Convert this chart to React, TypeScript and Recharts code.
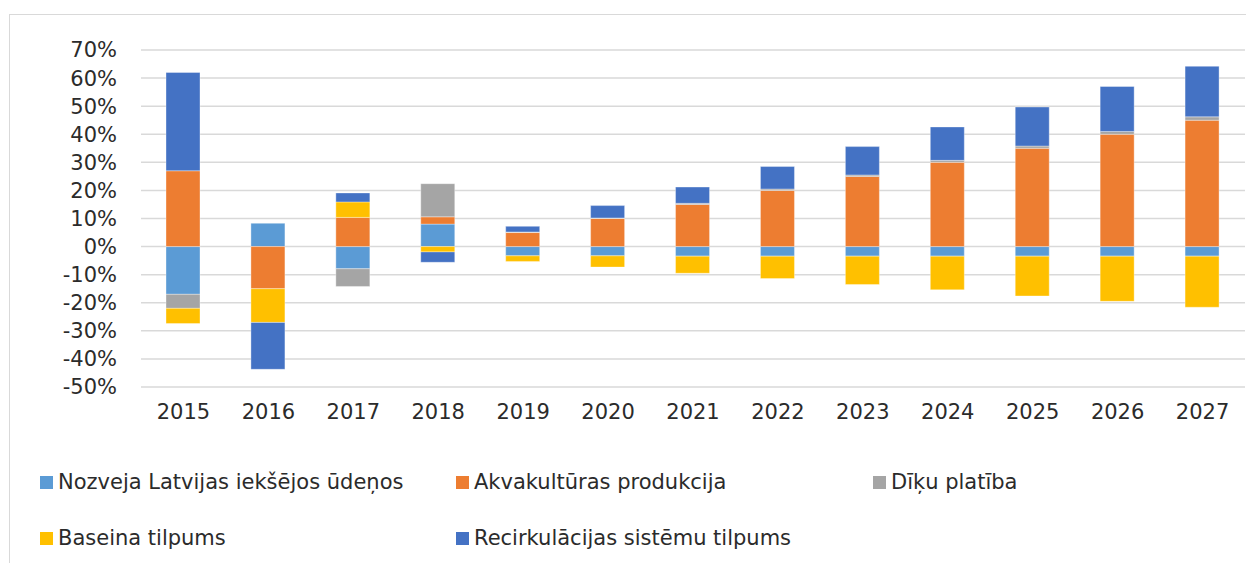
import { Bar, BarChart, CartesianGrid, XAxis, YAxis } from "recharts";

const years = ["2015", "2016", "2017", "2018", "2019", "2020", "2021", "2022", "2023", "2024", "2025", "2026", "2027"];

// percentage change by component
const nozveja = [-17, 8.3, -7.9, 8.0, -3.3, -3.3, -3.4, -3.4, -3.4, -3.4, -3.4, -3.4, -3.4];
const akvakultura = [27, -15, 10.4, 2.6, 5, 10, 15, 20, 25, 30, 35, 40, 45];
const diki = [-5, 0, -6.3, 11.8, 0.2, 0.2, 0.4, 0.5, 0.5, 0.7, 0.8, 1.0, 1.2];
const baseini = [-5.4, -12, 5.5, -1.9, -2.0, -4.0, -6.1, -8.0, -10.1, -12.0, -14.2, -16.1, -18.2];
const recirkulacija = [35, -16.7, 3.2, -3.7, 2.0, 4.4, 5.8, 8.0, 10.1, 11.9, 13.9, 16.0, 18.0];

const yTicks = [-50, -40, -30, -20, -10, 0, 10, 20, 30, 40, 50, 60, 70];

const series = [
  { key: "nozveja", name: "Nozveja Latvijas iekšējos ūdeņos", color: "#5B9BD5", values: nozveja },
  { key: "akva", name: "Akvakultūras produkcija", color: "#ED7D31", values: akvakultura },
  { key: "diki", name: "Dīķu platība", color: "#A5A5A5", values: diki },
  { key: "baseini", name: "Baseina tilpums", color: "#FFC000", values: baseini },
  { key: "recirk", name: "Recirkulācijas sistēmu tilpums", color: "#4472C4", values: recirkulacija },
];

// legend slots: [left, top] of the marker
const legendSlots = [
  [40, 475],
  [456, 475],
  [873, 475],
  [40, 531],
  [456, 531],
];

const font = "'DejaVu Sans', Verdana, sans-serif";
const textColor = "#2b2b2b";

export default function App() {
  const chartData = years.map((year, i) => {
    const row: Record<string, string | number> = { year };
    series.forEach((s) => {
      row[s.key] = s.values[i];
    });
    return row;
  });

  return (
    <div
      style={{
        position: "absolute",
        left: 0,
        top: 0,
        width: 1246,
        height: 563,
        background: "#fff",
        overflow: "hidden",
        fontFamily: font,
      }}
    >
      <div
        style={{
          position: "absolute",
          left: 9,
          top: 14,
          width: 1260,
          height: 600,
          borderLeft: "1.5px solid #d9d9d9",
          borderTop: "1.5px solid #d9d9d9",
        }}
      />
      <div style={{ position: "absolute", left: 0, top: 0 }}>
        <BarChart
          width={1246}
          height={430}
          data={chartData}
          stackOffset="sign"
          barSize={34}
          margin={{ top: 50, right: 1, bottom: 3, left: 0 }}
        >
          <CartesianGrid vertical={false} stroke="#d9d9d9" strokeWidth={1.5} />
          <XAxis
            dataKey="year"
            axisLine={false}
            tickLine={false}
            tickSize={0}
            tickMargin={17}
            height={40}
            tick={{ fill: textColor, fontSize: 21, fontFamily: font }}
            interval={0}
          />
          <YAxis
            width={141}
            domain={[-50, 70]}
            ticks={yTicks}
            interval={0}
            axisLine={false}
            tickLine={false}
            tickSize={0}
            tickMargin={24}
            tickFormatter={(v: number) => `${v}%`}
            tick={{ fill: textColor, fontSize: 21, fontFamily: font }}
          />
          {series.map((s) => (
            <Bar
              key={s.key}
              dataKey={s.key}
              name={s.name}
              stackId="a"
              fill={s.color}
              stroke="#ffffff"
              strokeOpacity={0.35}
              strokeWidth={1}
              isAnimationActive={false}
            />
          ))}
        </BarChart>
      </div>
      {series.map((s, i) => (
        <div
          key={s.key}
          style={{
            position: "absolute",
            left: legendSlots[i][0],
            top: legendSlots[i][1] - 6,
            height: 26,
            display: "flex",
            alignItems: "center",
            whiteSpace: "nowrap",
            fontSize: 21,
            color: textColor,
          }}
        >
          <span style={{ width: 13, height: 13, background: s.color, marginRight: 5, flexShrink: 0 }} />
          <span>{s.name}</span>
        </div>
      ))}
    </div>
  );
}
